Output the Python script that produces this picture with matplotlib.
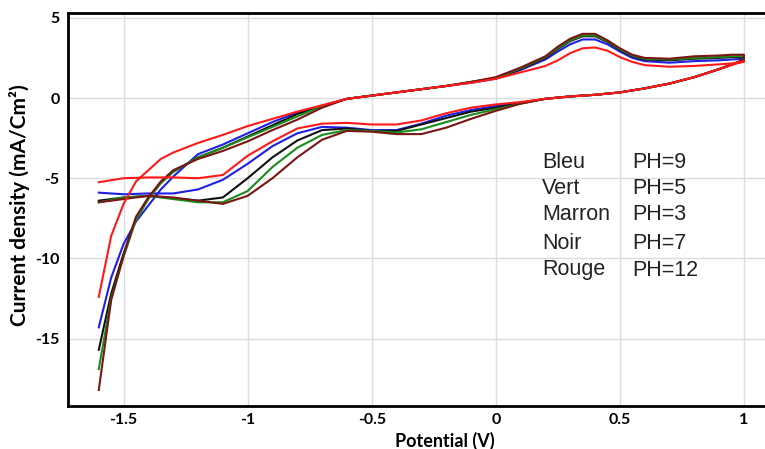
import matplotlib
matplotlib.use('Agg')
import matplotlib.pyplot as plt

# potential grid of the two branches (V)
lower_x = [-1.6, -1.5, -1.4, -1.3, -1.2, -1.1, -1.0, -0.9, -0.8, -0.7, -0.6, -0.5, -0.4,
           -0.3, -0.2, -0.1, 0.0, 0.1, 0.2, 0.3, 0.4, 0.5, 0.6, 0.7, 0.8, 0.9, 1.0]
upper_x = [1.0, 0.95, 0.9, 0.8, 0.7, 0.6, 0.55, 0.5, 0.45, 0.4, 0.35, 0.3, 0.25, 0.2, 0.1,
           0.0, -0.1, -0.2, -0.3, -0.4, -0.5, -0.6, -0.7, -0.8, -0.9, -1.0, -1.1, -1.2,
           -1.3, -1.35, -1.4, -1.45, -1.5, -1.55, -1.6]

# current density (mA/cm2), lower branch
bleu_low = [-5.9, -6.0, -5.95, -5.95, -5.7, -5.1, -4.1, -3.0, -2.2, -1.8, -1.85, -2.0, -2.0,
            -1.6, -1.1, -0.75, -0.5, -0.3, -0.05, 0.1, 0.2, 0.35, 0.6, 0.9, 1.3, 1.8, 2.35]
vert_low = [-6.5, -6.2, -6.1, -6.3, -6.5, -6.5, -5.8, -4.3, -3.1, -2.3, -2.0, -2.05, -2.15,
            -1.95, -1.5, -1.05, -0.7, -0.35, -0.05, 0.1, 0.2, 0.35, 0.6, 0.9, 1.3, 1.8, 2.35]
marron_low = [-6.5, -6.3, -6.1, -6.2, -6.4, -6.6, -6.1, -5.0, -3.7, -2.6, -2.05, -2.1, -2.25,
              -2.25, -1.85, -1.3, -0.8, -0.35, -0.05, 0.1, 0.2, 0.35, 0.6, 0.9, 1.3, 1.8, 2.4]
noir_low = [-6.4, -6.2, -6.1, -6.25, -6.4, -6.2, -5.0, -3.7, -2.65, -2.0, -1.9, -2.05, -2.05,
            -1.65, -1.25, -0.85, -0.6, -0.3, -0.05, 0.1, 0.2, 0.35, 0.6, 0.9, 1.3, 1.8, 2.35]
rouge_low = [-5.25, -5.0, -4.95, -4.95, -5.0, -4.8, -3.6, -2.7, -1.9, -1.6, -1.55, -1.65, -1.65,
             -1.4, -0.95, -0.6, -0.4, -0.25, -0.05, 0.1, 0.2, 0.35, 0.6, 0.9, 1.3, 1.8, 2.3]

# current density (mA/cm2), upper branch
bleu_up = [2.45, 2.4, 2.35, 2.3, 2.2, 2.3, 2.5, 2.9, 3.35, 3.65, 3.65, 3.35, 2.9, 2.4, 1.75,
           1.2, 0.95, 0.75, 0.55, 0.35, 0.15, -0.05, -0.5, -0.9, -1.5, -2.2, -2.9, -3.5,
           -4.9, -5.7, -6.7, -7.7, -9.1, -11.2, -14.3]
vert_up = [2.6, 2.6, 2.55, 2.5, 2.4, 2.45, 2.65, 3.05, 3.55, 3.9, 3.9, 3.6, 3.1, 2.55, 1.85,
           1.25, 1.0, 0.75, 0.55, 0.35, 0.15, -0.05, -0.5, -1.15, -1.8, -2.45, -3.1, -3.7,
           -4.6, -5.3, -6.3, -7.6, -9.9, -12.5, -16.9]
marron_up = [2.7, 2.7, 2.65, 2.6, 2.45, 2.5, 2.7, 3.1, 3.6, 4.0, 4.0, 3.7, 3.2, 2.6, 1.9,
             1.3, 1.0, 0.75, 0.55, 0.35, 0.15, -0.05, -0.6, -1.35, -2.0, -2.7, -3.3, -3.8,
             -4.5, -5.2, -6.2, -7.4, -9.8, -12.6, -18.2]
noir_up = [2.55, 2.55, 2.5, 2.45, 2.35, 2.4, 2.6, 3.0, 3.5, 3.85, 3.85, 3.55, 3.05, 2.5, 1.8,
           1.25, 1.0, 0.75, 0.55, 0.35, 0.15, -0.05, -0.5, -1.0, -1.7, -2.4, -3.1, -3.7,
           -4.6, -5.3, -6.2, -7.5, -9.7, -12.2, -15.7]
rouge_up = [2.25, 2.15, 2.1, 2.0, 1.95, 2.05, 2.25, 2.55, 2.95, 3.15, 3.1, 2.8, 2.35, 2.0, 1.6,
            1.2, 0.95, 0.75, 0.55, 0.35, 0.15, -0.05, -0.45, -0.85, -1.3, -1.75, -2.3, -2.8,
            -3.4, -3.8, -4.5, -5.2, -6.6, -8.6, -12.4]

names = ['Bleu', 'Vert', 'Marron', 'Noir', 'Rouge']
ph_labels = ['PH=9', 'PH=5', 'PH=3', 'PH=7', 'PH=12']

series = [
    (bleu_low, bleu_up, '#1f1fe6'),
    (noir_low, noir_up, '#111111'),
    (vert_low, vert_up, '#1a8c1a'),
    (marron_low, marron_up, '#7a1515'),
    (rouge_low, rouge_up, '#ff1a1a'),
]

fig = plt.figure(figsize=(7.65, 4.49), dpi=100)
W, H = 765, 449
ax = fig.add_axes([68 / W, (H - 406) / H, (W - 68) / W, (406 - 13) / H])

for low, up, color in series:
    ax.plot(lower_x + upper_x, low + up, color=color, lw=1.5)

ax.set_xlim(-1.724, 1.085)
ax.set_ylim(-19.2, 5.3)
ax.set_xticks([-1.5, -1, -0.5, 0, 0.5, 1])
ax.set_xticklabels(['-1.5', '-1', '-0.5', '0', '0.5', '1'])
ax.set_yticks([5, 0, -5, -10, -15])
ax.set_yticklabels(['5', '0', '-5', '-10', '-15'])
ax.grid(True, color='#dcdcdc', lw=1)
ax.set_axisbelow(True)
ax.tick_params(length=0, labelsize=11.5)
ax.tick_params(axis='x', pad=5)
ax.tick_params(axis='y', pad=6)
for lab in ax.get_xticklabels() + ax.get_yticklabels():
    lab.set_fontfamily('Lato')
    lab.set_fontweight('bold')

for side in ['left', 'bottom', 'top']:
    ax.spines[side].set_linewidth(2)
    ax.spines[side].set_color('black')
ax.spines['right'].set_visible(False)

ax.set_xlabel('Potential (V)', fontfamily='Lato', fontweight='bold', fontsize=13)
ax.xaxis.set_label_coords(0.541, -0.065)
ax.set_ylabel('Current density (mA/Cm²)', fontfamily='Lato', fontweight='bold', fontsize=15)
ax.yaxis.set_label_coords(-0.054, 0.511)

row_y = [162, 188, 215, 243, 270]
for name, ph, py in zip(names, ph_labels, row_y):
    fig.text(542 / W, 1 - py / H, name, fontfamily='Liberation Sans', fontsize=15.5,
             va='center', ha='left', color='#222222')
    fig.text(632 / W, 1 - py / H, ph, fontfamily='Liberation Sans', fontsize=15.5,
             va='center', ha='left', color='#222222')

fig.savefig('out.png', dpi=100)
